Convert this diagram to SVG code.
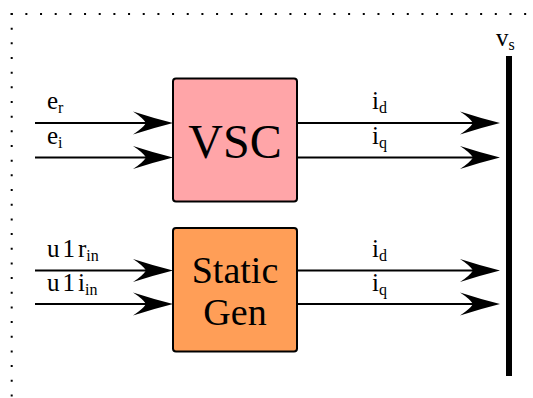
<svg xmlns="http://www.w3.org/2000/svg" width="533" height="398" viewBox="0 0 533 398" font-family="'Liberation Serif', 'Times New Roman', Times, serif">
<style>
.lbl{font-size:25px}
.sub{font-size:16px}
.ln{stroke:#000;stroke-width:2;fill:none}
.box{stroke:#000;stroke-width:2}
.dot{stroke:#000;stroke-width:2;stroke-dasharray:2 12.67;fill:none}
</style>
<defs>
<path id="ah" d="M0,0 Q-20,-5 -40,-11.5 Q-30,-5 -27,0 Q-30,5 -40,11.5 Q-20,5 0,0 Z" fill="#000"/>
</defs>
<g id="frame">
<line class="dot" x1="10.7" y1="14" x2="533" y2="14"/>
<line class="dot" x1="11.7" y1="13" x2="11.7" y2="398"/>
</g>
<g id="connectors">
<line class="ln" x1="35" y1="123" x2="150" y2="123"/>
<use href="#ah" x="173" y="123"/>
<line class="ln" x1="35" y1="157.5" x2="150" y2="157.5"/>
<use href="#ah" x="173" y="157.5"/>
<line class="ln" x1="35" y1="270.5" x2="150" y2="270.5"/>
<use href="#ah" x="173" y="270.5"/>
<line class="ln" x1="35" y1="304" x2="150" y2="304"/>
<use href="#ah" x="173" y="304"/>
<line class="ln" x1="297" y1="123" x2="478" y2="123"/>
<use href="#ah" x="500" y="123"/>
<line class="ln" x1="297" y1="157.5" x2="478" y2="157.5"/>
<use href="#ah" x="500" y="157.5"/>
<line class="ln" x1="297" y1="270.5" x2="478" y2="270.5"/>
<use href="#ah" x="500" y="270.5"/>
<line class="ln" x1="297" y1="304" x2="478" y2="304"/>
<use href="#ah" x="500" y="304"/>
<text class="lbl" x="47" y="109" font-family="Liberation Serif">e<tspan class="sub" dy="4">r</tspan></text>
<text class="lbl" x="47" y="144" font-family="Liberation Serif">e<tspan class="sub" dy="4">i</tspan></text>
<text class="lbl" x="47" y="257" font-family="Liberation Serif">u<tspan dx="3">1</tspan><tspan dx="3">r</tspan><tspan class="sub" dy="4">in</tspan></text>
<text class="lbl" x="47" y="291" font-family="Liberation Serif">u<tspan dx="3">1</tspan><tspan dx="3">i</tspan><tspan class="sub" dy="4">in</tspan></text>
<text class="lbl" x="372" y="109" font-family="Liberation Serif">i<tspan class="sub" dy="4">d</tspan></text>
<text class="lbl" x="372" y="144" font-family="Liberation Serif">i<tspan class="sub" dy="4">q</tspan></text>
<text class="lbl" x="372" y="257" font-family="Liberation Serif">i<tspan class="sub" dy="4">d</tspan></text>
<text class="lbl" x="372" y="291" font-family="Liberation Serif">i<tspan class="sub" dy="4">q</tspan></text>
</g>
<g id="vsc">
<rect class="box" x="173" y="78.5" width="124" height="123" rx="3" fill="#FFA5A8"/>
<text x="235" y="158" font-size="48" text-anchor="middle" font-family="Liberation Serif">VSC</text>
</g>
<g id="staticgen">
<rect class="box" x="173" y="228" width="124" height="123.5" rx="3" fill="#FF9E57"/>
<text x="235" y="283" font-size="38" text-anchor="middle" font-family="Liberation Serif">Static</text>
<text x="235" y="325" font-size="38" text-anchor="middle" font-family="Liberation Serif">Gen</text>
</g>
<g id="bus">
<rect x="506" y="56" width="6" height="320" fill="#000"/>
<text class="lbl" x="496" y="46" font-family="Liberation Serif">v<tspan class="sub" dy="4">s</tspan></text>
</g>
</svg>
